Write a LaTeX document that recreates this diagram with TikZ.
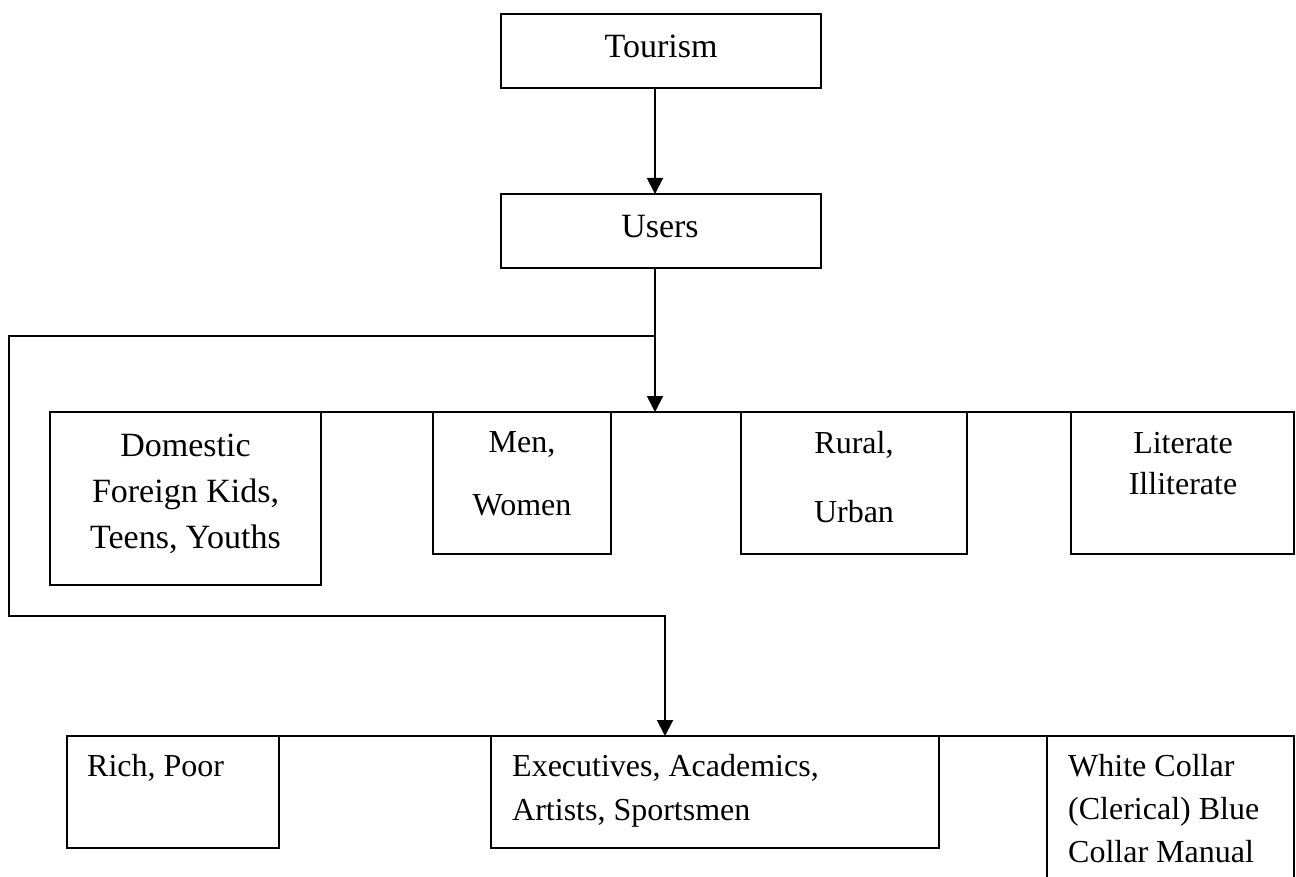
\documentclass[tikz,border=0pt]{standalone}
\usepackage{fontspec}
\setmainfont{Liberation Serif}
\usetikzlibrary{arrows.meta}
\begin{document}
\begin{tikzpicture}[x=1pt,y=-1pt,
  box/.style={draw=black, line width=2.5pt, inner sep=0pt, outer sep=0pt, anchor=north west},
  ctxt/.style={inner sep=0pt, align=center, anchor=base},
  ltxt/.style={inner sep=0pt, align=left, anchor=base west},
  link/.style={draw=black, line width=2pt},
  rail/.style={draw=black, line width=1.5pt},
  tip/.style={-{Triangle[width=16pt,length=16pt]}}]
\useasboundingbox (0,0) rectangle (1296,877);
\clip (0,0) rectangle (1296,877);

% fixed points of the connector routes
\coordinate (hub) at (655,336);
\coordinate (row1) at (655,412);
\coordinate (leftup) at (9,336);
\coordinate (leftdown) at (9,616);
\coordinate (turn) at (665,616);
\coordinate (row2) at (665,736);

% top boxes
\node[box, minimum width=320pt, minimum height=74pt] (tour) at (501,14) {};
\node[box, minimum width=320pt, minimum height=74pt] (users) at (501,194) {};

% rails along the tops of the two rows
\draw[rail] (50,412) -- (1294,412);
\draw[rail] (67,736) -- (1294,736);

% first row
\node[box, fill=white, minimum width=271pt, minimum height=173pt] (dom) at (50,412) {};
\node[box, fill=white, minimum width=178pt, minimum height=142pt] (men) at (433,412) {};
\node[box, fill=white, minimum width=226pt, minimum height=142pt] (rur) at (741,412) {};
\node[box, fill=white, minimum width=223pt, minimum height=142pt] (lit) at (1071,412) {};

% second row
\node[box, fill=white, minimum width=212pt, minimum height=112pt] (rich) at (67,736) {};
\node[box, fill=white, minimum width=448pt, minimum height=112pt] (exec) at (491,736) {};
\node[box, fill=white, minimum width=247pt, minimum height=170pt] (white) at (1047,736) {};

% texts (anchored on the baseline of their last line)
\node[ctxt, font=\fontsize{34}{40}\selectfont] (tourT) at (661,58) {Tourism};
\node[ctxt, font=\fontsize{34}{40}\selectfont] (usersT) at (660,238) {Users};
\node[ctxt, font=\fontsize{34}{46}\selectfont] (domT) at (185.5,548) {Domestic\\Foreign Kids,\\Teens, Youths};
\node[ctxt, font=\fontsize{32}{63}\selectfont] (menT) at (522,515) {Men,\\Women};
\node[ctxt, font=\fontsize{32}{69}\selectfont] (rurT) at (854,522) {Rural,\\Urban};
\node[ctxt, font=\fontsize{32}{41}\selectfont] (litT) at (1183,494) {Literate\\Illiterate};
\node[ltxt, font=\fontsize{32}{44}\selectfont] (richT) at (87,776) {Rich, Poor};
\node[ltxt, font=\fontsize{32}{44}\selectfont] (execT) at (512,820) {Executives, Academics,\\Artists, Sportsmen};
\node[ltxt, font=\fontsize{32}{43}\selectfont] (whiteT) at (1068,862) {White Collar\\(Clerical) Blue\\Collar Manual};

% connectors
\draw[link, tip] ([xshift=-6pt]tour.south) -- ([xshift=-6pt]users.north);
\draw[link, tip] ([xshift=-6pt]users.south) -- (row1);
\draw[link, tip] (hub) -- (leftup) -- (leftdown) -- (turn) -- (row2);
\end{tikzpicture}
\end{document}
